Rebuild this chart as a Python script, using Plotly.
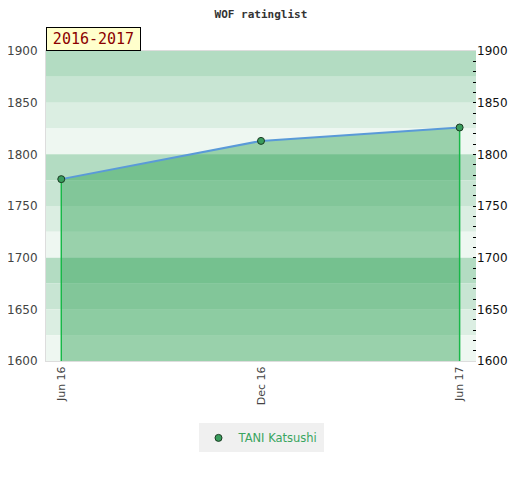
import plotly.graph_objects as go

# данные
dates = ['2016-06-01', '2016-12-01', '2017-06-01']
ratings = [1776, 1813, 1826]
player = 'TANI Katsushi'
season = '2016-2017'
y_min, y_max = 1600, 1900

fig = go.Figure()

# полосы фона, цикл из 4 оттенков на каждые 100 пунктов
band_colors = ['#b3dcc2', '#c8e5d3', '#dbeee2', '#eef7f1']
for i, top in enumerate(range(y_max, y_min, -25)):
    fig.add_shape(type='rect', xref='paper', yref='y', x0=0, x1=1,
                  y0=top - 25, y1=top, fillcolor=band_colors[i % 4],
                  line_width=0, layer='below')

# заливка под линией
fig.add_trace(go.Scatter(
    x=dates, y=ratings, mode='lines', fill='tozeroy',
    fillcolor='rgba(26,152,68,0.4)', line=dict(width=0),
    showlegend=False, hoverinfo='skip'
))

# вертикальные края заливки
for d, v in [(dates[0], ratings[0]), (dates[-1], ratings[-1])]:
    fig.add_trace(go.Scatter(
        x=[d, d], y=[y_min, v], mode='lines',
        line=dict(color='#18b848', width=1.5),
        showlegend=False, hoverinfo='skip'
    ))

# сама линия рейтинга
fig.add_trace(go.Scatter(
    x=dates, y=ratings, mode='lines',
    line=dict(color='#5a9ad8', width=2),
    showlegend=False
))

fig.add_trace(go.Scatter(
    x=dates, y=ratings, mode='markers', name=player,
    marker=dict(size=7, color='#3a9d5d', line=dict(color='#1a3a22', width=1)),
))

# невидимый след для правой оси
fig.add_trace(go.Scatter(x=dates, y=ratings, yaxis='y2', mode='markers',
                         marker=dict(opacity=0), showlegend=False, hoverinfo='skip'))

fig.add_annotation(
    text=season, xref='paper', yref='paper', x=0, y=1,
    xanchor='left', yanchor='bottom', showarrow=False, width=89,
    font=dict(family='DejaVu Sans Mono', size=15, color='#8b0000'),
    bgcolor='#ffffcc', bordercolor='#000000', borderwidth=1, borderpad=2
)

fig.update_layout(
    width=520, height=480,
    margin=dict(l=38, r=52, t=43, b=127, autoexpand=False),
    paper_bgcolor='white', plot_bgcolor='white',
    title=dict(text='WOF ratinglist', x=0.4865, y=0.988, xanchor='center', yanchor='middle',
               font=dict(family='DejaVu Sans Mono', size=11, color='#333', weight='bold')),
    font=dict(family='DejaVu Sans', size=12, color='#444'),
    xaxis=dict(
        type='date', range=['2016-05-18', '2017-06-16'], automargin=False,
        tickvals=dates, tickformat='%b %y', tickangle=-90,
        showgrid=False, zeroline=False, showline=True, linecolor='#dddddd',
        mirror=True, tickfont=dict(size=11, color='#444')
    ),
    yaxis=dict(
        range=[y_min, y_max], dtick=50, showgrid=False, zeroline=False, automargin=False,
        showline=True, linecolor='#dddddd', ticks='', ticklabelstandoff=5,
        tickfont=dict(color='#444')
    ),
    yaxis2=dict(
        overlaying='y', side='right', range=[y_min, y_max], dtick=50, automargin=False,
        showgrid=False, zeroline=False, ticks='inside', ticklen=3, tickcolor='#000',
        minor=dict(dtick=10, ticks='inside', ticklen=3, tickcolor='#000'),
        tickfont=dict(color='#111')
    ),
    legend=dict(orientation='h', x=0.5, xanchor='center', y=-0.248, yanchor='middle',
                bgcolor='#f0f0f0', font=dict(color='#3aa55f', size=11.5)),
)

fig.write_html("out.html")
